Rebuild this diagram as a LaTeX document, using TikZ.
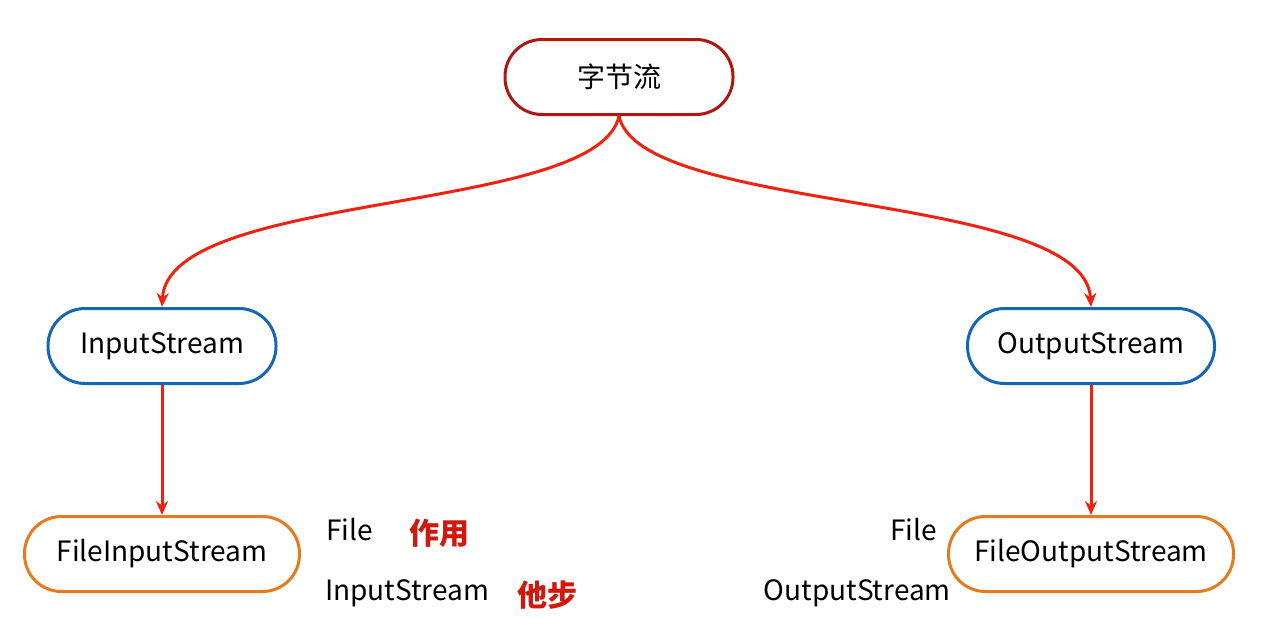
\documentclass[tikz,border=0pt]{standalone}
\usepackage{fontspec}
\setmainfont{Noto Sans CJK SC}
\newfontfamily\cjkbold{Noto Sans CJK SC}[UprightFont=* Black]
\usetikzlibrary{arrows.meta}
\definecolor{topred}{HTML}{B0160E}
\definecolor{boxblue}{HTML}{1567B4}
\definecolor{boxorange}{HTML}{E57A1E}
\definecolor{arrred}{HTML}{F0220F}
\definecolor{notered}{HTML}{D0180C}
\tikzset{
  pill/.style={draw, line width=3pt, fill=white, inner sep=0pt, minimum height=75pt, rounded corners=37pt, font=\fontsize{28}{32}\selectfont},
  conn/.style={draw=arrred, line width=3pt, -{Stealth[length=14pt,width=12pt]}},
  lbl/.style={inner sep=0pt, font=\fontsize{28}{32}\selectfont},
  redlbl/.style={inner sep=0pt, text=notered, font=\cjkbold\fontsize{30}{32}\selectfont},
}
\begin{document}
\begin{tikzpicture}[x=1pt,y=-1pt]
\useasboundingbox (0,0) rectangle (1263,638);
\node[pill, draw=topred, minimum width=228pt] (top) at (619,77) {字节流};
\node[pill, draw=boxblue, minimum width=228pt] (in) at (162,346) {InputStream};
\node[pill, draw=boxblue, minimum width=247pt] (out) at (1091,346) {OutputStream};
\node[pill, draw=boxorange, minimum width=275pt] (fin) at (162,554) {FileInputStream};
\node[pill, draw=boxorange, minimum width=285pt] (fout) at (1091,554) {FileOutputStream};
\draw[conn] (top.south) .. controls (598,215) and (168,190) .. (in.north);
\draw[conn] (top.south) .. controls (640,215) and (1085,190) .. (out.north);
\draw[conn] (in) -- (fin);
\draw[conn] (out) -- (fout);
\node[lbl, anchor=west] (f1) at (326,530) {File};
\node[lbl, anchor=west] (is1) at (325,593) {InputStream};
\node[redlbl] (zy) at (439,533) {作用};
\node[redlbl] (tb) at (547,595) {他步};
\node[lbl, anchor=east] (f2) at (937,530) {File};
\node[lbl, anchor=east] (os2) at (951,593) {OutputStream};
\end{tikzpicture}
\end{document}
